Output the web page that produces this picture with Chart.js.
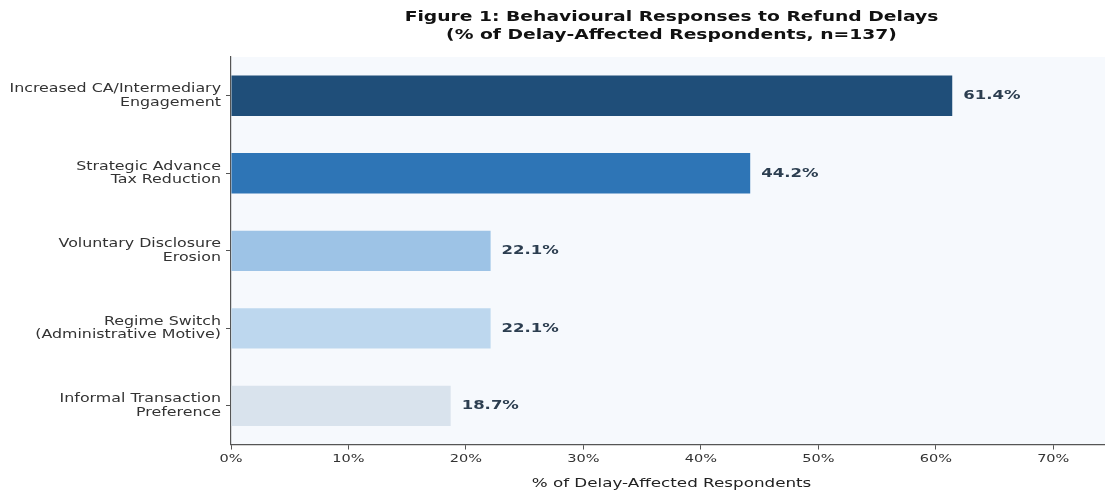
<!DOCTYPE html>
<html>
<head>
<meta charset="utf-8">
<script src="https://cdn.jsdelivr.net/npm/chart.js@4"></script>
<style>
  html, body { margin: 0; padding: 0; background: #fff; overflow: hidden; }
  #wrap { width: 1112px; height: 497px; }
</style>
</head>
<body>
<div id="wrap"><canvas id="chart" width="1112" height="497"></canvas></div>
<script>
// Behavioural responses, top to bottom
const categories = [
  ["Increased CA/Intermediary", "Engagement"],
  ["Strategic Advance", "Tax Reduction"],
  ["Voluntary Disclosure", "Erosion"],
  ["Regime Switch", "(Administrative Motive)"],
  ["Informal Transaction", "Preference"]
];
const shares = [61.4, 44.2, 22.1, 22.1, 18.7];
const barColors = ["#1f4e79", "#2e75b6", "#9dc3e6", "#bdd7ee", "#d9e3ed"];
const xTicks = [0, 10, 20, 30, 40, 50, 60, 70];
const titleLines = [
  "Figure 1: Behavioural Responses to Refund Delays",
  "(% of Delay-Affected Respondents, n=137)"
];

// all text on this figure is set a little wide
const TEXT_STRETCH = 1.32;

const wideText = {
  id: "wideText",
  beforeInit(chart) {
    const ctx = chart.ctx;
    const plain = ctx.fillText.bind(ctx);
    ctx.fillText = function (txt, x, y) {
      this.save();
      this.translate(x, y);
      this.scale(TEXT_STRETCH, 1);
      plain(txt, 0, 0);
      this.restore();
    };
  }
};

// light panel behind the bars
const panelBg = {
  id: "panelBg",
  beforeDraw(chart) {
    const { ctx, chartArea: a } = chart;
    ctx.save();
    ctx.fillStyle = "#f6f9fd";
    ctx.fillRect(a.left, a.top, a.right - a.left, a.bottom - a.top);
    ctx.restore();
  }
};

// percentage written just past each bar end, and the title over the plot
const annotate = {
  id: "annotate",
  afterDatasetsDraw(chart) {
    const { ctx } = chart;
    const meta = chart.getDatasetMeta(0);
    ctx.save();
    ctx.font = "bold 12.5px 'DejaVu Sans'";
    ctx.fillStyle = "#2c3e50";
    ctx.textAlign = "left";
    ctx.textBaseline = "middle";
    meta.data.forEach((bar, i) => {
      ctx.fillText(shares[i].toFixed(1) + "%", bar.x + 11, bar.y);
    });
    ctx.restore();
  },
  afterDraw(chart) {
    const { ctx, chartArea: a } = chart;
    const cx = (a.left + a.right) / 2;
    ctx.save();
    ctx.font = "bold 14.2px 'DejaVu Sans'";
    ctx.fillStyle = "#111";
    ctx.textAlign = "center";
    ctx.textBaseline = "middle";
    titleLines.forEach((line, i) => ctx.fillText(line, cx, 17 + i * 18));
    ctx.restore();
  }
};

new Chart(document.getElementById("chart"), {
  type: "bar",
  data: {
    labels: categories,
    datasets: [{
      data: shares,
      backgroundColor: barColors,
      borderWidth: 0,
      categoryPercentage: 1,
      barPercentage: 0.52
    }]
  },
  plugins: [wideText, panelBg, annotate],
  options: {
    indexAxis: "y",
    responsive: false,
    animation: false,
    layout: { padding: { left: 0, right: 0, top: 57, bottom: 6 } },
    plugins: {
      legend: { display: false },
      tooltip: { enabled: false },
      title: { display: false }
    },
    scales: {
      x: {
        min: 0,
        max: 75,
        afterBuildTicks(scale) {
          scale.ticks = xTicks.map(v => ({ value: v }));
        },
        ticks: {
          callback: v => v + "%",
          color: "#333",
          font: { family: "'DejaVu Sans'", size: 11 },
          padding: 3,
          maxRotation: 0
        },
        grid: { display: true, drawOnChartArea: false, drawTicks: true, tickLength: 5, color: "#555" },
        border: { display: true, color: "#555", width: 1.2 },
        title: {
          display: true,
          text: "% of Delay-Affected Respondents",
          color: "#222",
          font: { family: "'DejaVu Sans'", size: 12.7 },
          padding: { top: 7, bottom: 0 }
        }
      },
      y: {
        afterFit(scale) { scale.width = 231; },
        ticks: {
          color: "#333",
          font: { family: "'DejaVu Sans'", size: 12, lineHeight: 1.12 },
          padding: 5
        },
        grid: { display: true, drawOnChartArea: false, drawTicks: true, tickLength: 5, offset: false, color: "#555" },
        border: { display: true, color: "#555", width: 1.2 }
      }
    }
  }
});
</script>
</body>
</html>
